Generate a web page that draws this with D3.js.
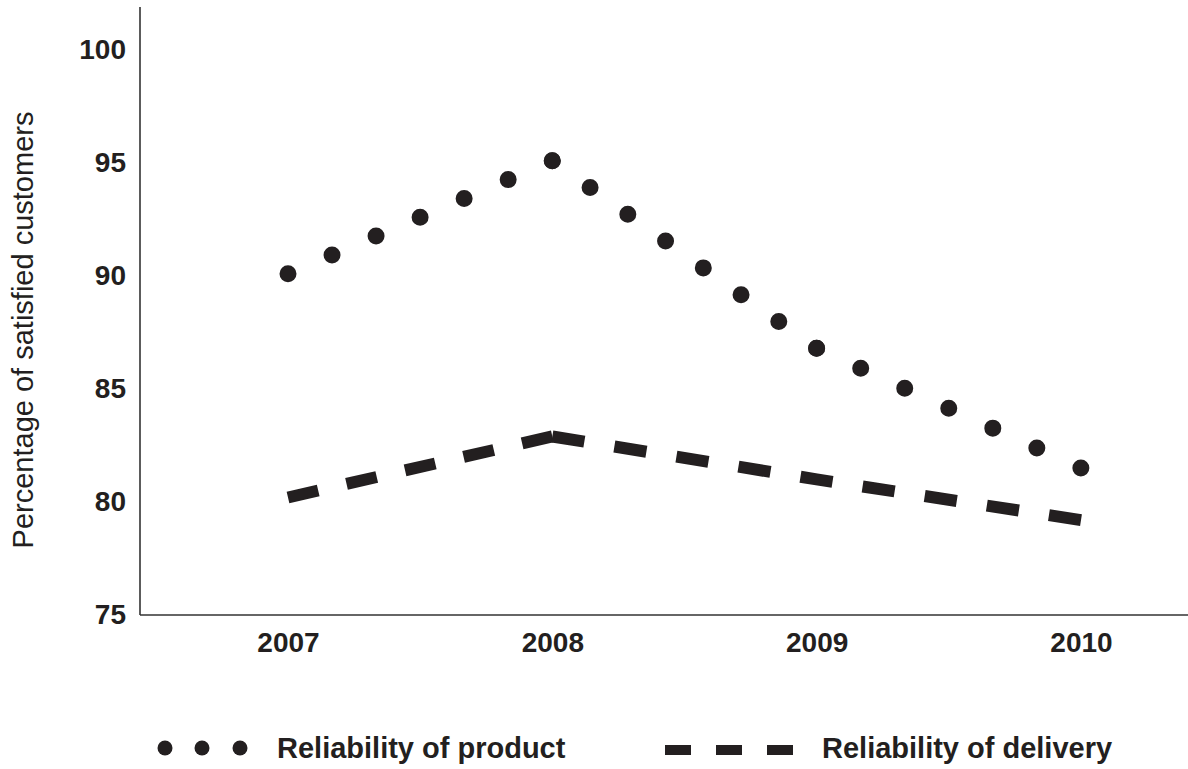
<!DOCTYPE html>
<html>
<head>
<meta charset="utf-8">
<script src="https://cdn.jsdelivr.net/npm/d3@7"></script>
<style>
  body { margin: 0; background: #fff; }
  svg { display: block; font-family: 'Liberation Sans', Arial, sans-serif; }
</style>
</head>
<body>
<div class="chart"></div>
<script>
const years = [2007, 2008, 2009, 2010];
const productValues = [90.1, 95.1, 86.8, 81.5];
const deliveryValues = [80.2, 82.9, 81.0, 79.2];
const yTicks = [75, 80, 85, 90, 95, 100];
const seriesNames = ['Reliability of product', 'Reliability of delivery'];
const yTitle = 'Percentage of satisfied customers';

const ink = '#231f20';
const width = 1188;
const height = 769;
const margin = { left: 140, top: 7, bottom: 615 };

const svg = d3
  .select('.chart')
  .append('svg')
  .attr('width', width)
  .attr('height', height);

const x = d3.scaleLinear().domain([2007, 2010]).range([288, 1081]);
const y = d3.scaleLinear().domain([75, 100]).range([615, 50]);

// axes: plain lines, no tick marks
const yAxis = svg
  .append('g')
  .attr('transform', `translate(${margin.left}, 0)`)
  .call(d3.axisLeft(y).tickValues(yTicks).tickSize(0).tickPadding(14).tickFormat(d3.format('d')));
yAxis.select('.domain')
  .attr('d', `M0,${margin.bottom}V${margin.top}`)
  .attr('stroke', '#333')
  .attr('stroke-width', 1.6);
yAxis.selectAll('text')
  .attr('fill', ink)
  .style('font-size', '28px')
  .style('font-weight', 'bold')
  .attr('dy', '0.3em');

const xAxis = svg
  .append('g')
  .attr('transform', `translate(0, ${margin.bottom})`)
  .call(d3.axisBottom(x).tickValues(years).tickSize(0).tickPadding(17).tickFormat(d3.format('d')));
xAxis.select('.domain')
  .attr('d', `M${margin.left},0H${width}`)
  .attr('stroke', '#333')
  .attr('stroke-width', 1.6);
xAxis.selectAll('text')
  .attr('fill', ink)
  .style('font-size', '28px')
  .style('font-weight', 'bold');

svg.append('text')
  .attr('transform', 'translate(33, 330) rotate(-90)')
  .attr('text-anchor', 'middle')
  .attr('fill', ink)
  .style('font-size', '29px')
  .text(yTitle);

const line = d3.line().x((d) => x(d[0])).y((d) => y(d[1]));

// split a series into runs; breaks at every point, or only where direction flips
const runs = (values, everyPoint) => {
  const pts = years.map((yr, i) => [yr, values[i]]);
  const out = [];
  let cur = [pts[0]];
  for (let i = 1; i < pts.length; i++) {
    cur.push(pts[i]);
    const next = pts[i + 1];
    if (!next) break;
    const flips = Math.sign(next[1] - pts[i][1]) !== Math.sign(pts[i][1] - pts[i - 1][1]);
    if (everyPoint || flips) {
      out.push(cur);
      cur = [pts[i]];
    }
  }
  out.push(cur);
  return out;
};

// dotted product line, dots fitted to each corner
runs(productValues, true).forEach((seg) => {
  const p = svg.append('path')
    .attr('d', line(seg))
    .attr('fill', 'none')
    .attr('stroke', ink)
    .attr('stroke-width', 17)
    .attr('stroke-linecap', 'round');
  const len = p.node().getTotalLength();
  const n = Math.max(1, Math.round(len / 47.5));
  p.attr('stroke-dasharray', `0 ${(len / n) * 0.9995}`);
});

// dashed delivery line, dashes start and end at corners
runs(deliveryValues, false).forEach((seg) => {
  const p = svg.append('path')
    .attr('d', line(seg))
    .attr('fill', 'none')
    .attr('stroke', ink)
    .attr('stroke-width', 12)
    .attr('stroke-linecap', 'butt');
  const len = p.node().getTotalLength();
  const dash = 32, gap = 30;
  const n = Math.max(1, Math.round((len + gap) / (dash + gap)));
  const k = len / (n * dash + (n - 1) * gap);
  p.attr('stroke-dasharray', `${dash * k} ${gap * k}`);
});

// legend
const legend = svg.append('g');
legend.selectAll('.legend-dot')
  .data([165, 202, 240])
  .enter()
  .append('circle')
  .attr('class', 'legend-dot')
  .attr('cx', (d) => d)
  .attr('cy', 748)
  .attr('r', 7.5)
  .attr('fill', ink);
legend.selectAll('.legend-dash')
  .data([665, 716, 767])
  .enter()
  .append('rect')
  .attr('class', 'legend-dash')
  .attr('x', (d) => d)
  .attr('y', 745)
  .attr('width', 26)
  .attr('height', 10)
  .attr('fill', ink);
legend.selectAll('.legend-label')
  .data(seriesNames)
  .enter()
  .append('text')
  .attr('class', 'legend-label')
  .attr('x', (d, i) => (i === 0 ? 277 : 822))
  .attr('y', 758)
  .attr('fill', ink)
  .style('font-size', '29px')
  .style('font-weight', 'bold')
  .text((d) => d);
</script>
</body>
</html>
